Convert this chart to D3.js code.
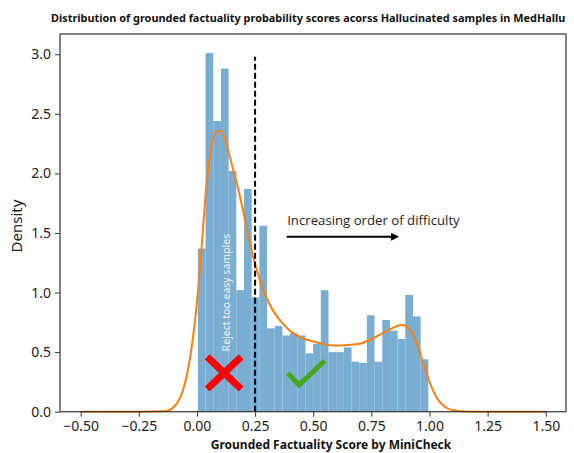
<!DOCTYPE html>
<html>
<head>
<meta charset="utf-8">
<script src="https://cdn.jsdelivr.net/npm/d3@7"></script>
<style>
  body { margin: 0; background: #fff; }
  svg { display: block; }
</style>
</head>
<body>
<div id="chart"></div>
<script>
// histogram: 30 bins between binStart and binEnd (density)
const binStart = 0.004;
const binEnd = 0.995;
const binDensity = [1.37, 3.01, 2.44, 2.88, 2.02, 1.02, 1.87, 0.96, 1.56, 0.70,
  0.72, 0.64, 0.66, 0.64, 0.49, 0.57, 1.02, 0.50, 0.50, 0.54,
  0.42, 0.41, 0.81, 0.42, 0.77, 0.68, 0.61, 0.98, 0.80, 0.44];

// kde curve
const kdeX = [-0.5, -0.25, -0.15, -0.12, -0.10, -0.08, -0.06, -0.04, -0.02, 0.0,
  0.02, 0.04, 0.06, 0.08, 0.10, 0.12, 0.14, 0.16, 0.18, 0.20,
  0.22, 0.24, 0.26, 0.28, 0.30, 0.33, 0.36, 0.40, 0.45, 0.50,
  0.55, 0.60, 0.65, 0.70, 0.75, 0.80, 0.85, 0.88, 0.91, 0.94,
  0.97, 1.00, 1.03, 1.06, 1.10, 1.15, 1.25, 1.5];
const kdeY = [0, 0, 0.003, 0.012, 0.04, 0.09, 0.18, 0.34, 0.58, 0.92,
  1.38, 1.88, 2.20, 2.34, 2.36, 2.29, 2.15, 2.00, 1.85, 1.67,
  1.49, 1.31, 1.17, 1.05, 0.95, 0.84, 0.76, 0.68, 0.62, 0.59,
  0.565, 0.555, 0.56, 0.57, 0.61, 0.66, 0.71, 0.73, 0.70, 0.60,
  0.43, 0.25, 0.12, 0.05, 0.012, 0.002, 0, 0];

const xTicks = [-0.5, -0.25, 0, 0.25, 0.5, 0.75, 1.0, 1.25, 1.5];
const yTicks = [0, 0.5, 1.0, 1.5, 2.0, 2.5, 3.0];

const threshold = 0.25;
const thresholdTop = 2.98;

const titleText = "Distribution of grounded factuality probability scores acorss Hallucinated samples in MedHallu";
const xLabel = "Grounded Factuality Score by MiniCheck";
const yLabel = "Density";

const W = 574, H = 453;
const margin = { top: 34, left: 60, right: 8, bottom: 41.3 };
const width = W - margin.left - margin.right;
const height = H - margin.top - margin.bottom;

const svg = d3.select("#chart").append("svg")
  .attr("width", W)
  .attr("height", H)
  .style("font-family", "'Noto Sans', sans-serif");

const container = svg.append("g")
  .attr("transform", `translate(${margin.left}, ${margin.top})`);

const x = d3.scaleLinear().domain([-0.589, 1.587]).range([0, width]);
const y = d3.scaleLinear().domain([0, 3.17]).range([height, 0]);

// bars
const binW = (binEnd - binStart) / binDensity.length;
container.selectAll(".bar")
  .data(binDensity)
  .enter()
  .append("rect")
  .attr("class", "bar")
  .attr("x", (d, i) => x(binStart + i * binW))
  .attr("width", x(binStart + binW) - x(binStart))
  .attr("y", (d) => y(d))
  .attr("height", (d) => height - y(d))
  .attr("fill", "#79add2");

// kde
const kde = kdeX.map((v, i) => [v, kdeY[i]]);
container.append("path")
  .datum(kde)
  .attr("fill", "none")
  .attr("stroke", "#ff7f0e")
  .attr("stroke-width", 2)
  .attr("d", d3.line().x((d) => x(d[0])).y((d) => y(d[1])).curve(d3.curveMonotoneX));

// threshold line
container.append("line")
  .attr("x1", x(threshold)).attr("x2", x(threshold))
  .attr("y1", y(0)).attr("y2", y(thresholdTop))
  .attr("stroke", "#000")
  .attr("stroke-width", 2)
  .attr("stroke-dasharray", "6,3");

// axes
const xAxis = container.append("g")
  .attr("transform", `translate(0, ${height})`)
  .call(d3.axisBottom(x).tickValues(xTicks).tickFormat(d3.format(".2f")).tickSizeOuter(0).tickSize(5).tickPadding(4));

const yAxis = container.append("g")
  .call(d3.axisLeft(y).tickValues(yTicks).tickFormat(d3.format(".1f")).tickSizeOuter(0).tickSize(5).tickPadding(4));

[xAxis, yAxis].forEach((a) => {
  a.selectAll("text").attr("font-size", 14).attr("fill", "#222").attr("font-family", "'Noto Sans', sans-serif");
  a.selectAll("line").attr("stroke", "#333").attr("stroke-width", 1);
  a.select(".domain").remove();
});
xAxis.selectAll("text").text((d) => d3.format(".2f")(d).replace("-", "\u2212"));

// frame
container.append("rect")
  .attr("width", width).attr("height", height)
  .attr("fill", "none").attr("stroke", "#333").attr("stroke-width", 1.2);

// annotations
container.append("text")
  .attr("transform", `translate(${x(0.128)}, ${y(1.0)}) rotate(-90)`)
  .attr("text-anchor", "middle")
  .attr("dominant-baseline", "middle")
  .attr("font-size", 10.5)
  .attr("fill", "#fff")
  .attr("fill-opacity", 0.85)
  .text("Reject too easy samples");

const cross = [[0.044, 0.46, 0.19, 0.19], [0.19, 0.46, 0.044, 0.19]];
container.selectAll(".cross")
  .data(cross)
  .enter()
  .append("line")
  .attr("x1", (d) => x(d[0])).attr("y1", (d) => y(d[1]))
  .attr("x2", (d) => x(d[2])).attr("y2", (d) => y(d[3]))
  .attr("stroke", "#ff0000")
  .attr("stroke-width", 7);

const check = [[0.391, 0.322], [0.439, 0.224], [0.549, 0.428]];
container.append("path")
  .datum(check)
  .attr("fill", "none")
  .attr("stroke", "#46a81d")
  .attr("stroke-width", 5)
  .attr("d", d3.line().x((d) => x(d[0])).y((d) => y(d[1])));

container.append("text")
  .attr("x", x(0.388)).attr("y", y(1.565))
  .attr("font-size", 13.2)
  .attr("fill", "#222")
  .attr("font-family", "'Open Sans', sans-serif")
  .text("Increasing order of difficulty");

svg.append("defs").append("marker")
  .attr("id", "arrow")
  .attr("viewBox", "0 0 10 10")
  .attr("refX", 8).attr("refY", 5)
  .attr("markerWidth", 4).attr("markerHeight", 4)
  .attr("orient", "auto")
  .append("path")
  .attr("d", "M0,0 L10,5 L0,10 z")
  .attr("fill", "#000");

container.append("line")
  .attr("x1", x(0.386)).attr("y1", y(1.468))
  .attr("x2", x(0.862)).attr("y2", y(1.468))
  .attr("stroke", "#000")
  .attr("stroke-width", 2)
  .attr("marker-end", "url(#arrow)");

// title + labels
svg.append("text")
  .attr("x", 51).attr("y", 22)
  .attr("font-size", 10.9)
  .attr("font-weight", "bold")
  .attr("fill", "#111")
  .text(titleText);

svg.append("text")
  .attr("x", 331).attr("y", 449)
  .attr("text-anchor", "middle")
  .attr("font-size", 12)
  .attr("font-weight", "bold")
  .attr("fill", "#111")
  .text(xLabel);

svg.append("text")
  .attr("transform", "translate(18, 226) rotate(-90)")
  .attr("text-anchor", "middle")
  .attr("dominant-baseline", "middle")
  .attr("font-size", 15)
  .attr("fill", "#222")
  .text(yLabel);
</script>
</body>
</html>
